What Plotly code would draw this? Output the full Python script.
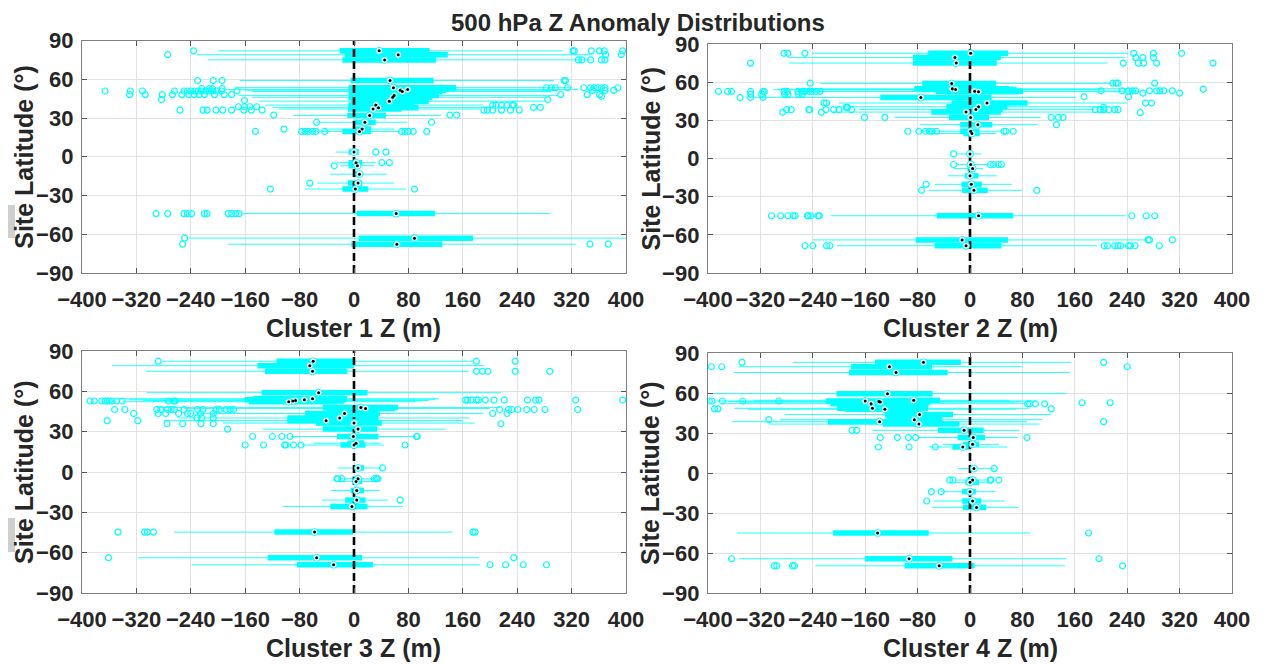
import plotly.graph_objects as go

# ---------------- data ----------------
x_ticks = [-400, -320, -240, -160, -80, 0, 80, 160, 240, 320, 400]
y_ticks = [-90, -60, -30, 0, 30, 60, 90]
cluster_names = ["Cluster 1 Z (m)", "Cluster 2 Z (m)", "Cluster 3 Z (m)", "Cluster 4 Z (m)"]

# Cluster 1
c1_lat = [82, 79, 75, 59, 53.5, 52, 51.5, 50.5, 47.5, 46, 43, 40, 38, 37, 32, 26.7, 21.4, 19.6, 3.6, -4.6, -7, -13.5, -20.4, -25, -44, -63, -67.7]
c1_q1 = [-21, -14, -17, -5, -8, -5, -6, -8, -7, -8, -5, -8, -6, -9, -10, -1, 2, -17, -8, -8, -8, -1, -9, -17, 4, 7, -4]
c1_med = [37, 65, 45, 53, 58, 79, 68, 71, 59, 57, 52, 32, 36, 28, 23, 16, 12, 8, 0, 3, 5, 8, 6, 2, 62, 89, 63]
c1_q3 = [111, 138, 121, 117, 150, 140, 135, 130, 125, 115, 110, 88, 95, 70, 47, 32, 25, 25, 7, 12, 9, 12, 12, 21, 119, 175, 130]
c1_wlo = [-200, -231, -215, -168, -175, -190, -160, -150, -170, -150, -140, -130, -120, -110, -89, -56, -43, -75, -27, -25, -20, -35, -54, -72, -164, -243, -185]
c1_whi = [307, 349, 348, 294, 320, 330, 300, 290, 300, 285, 280, 190, 200, 185, 128, 78, 59, 68, 7, 32, 30, 48, 59, 77, 289, 400, 326]
c1_out_lat = ([82] * 7 + [79] * 3 + [75] * 5 + [59] * 5 + [52.7] * 4 + [50.9] * 16 + [48.1] * 12 + [44.3, 43.5]
              + [53.4] * 11 + [51.4] * 3 + [48.1] * 3 + [46.8, 44.3] + [40] * 6 + [38.2] * 2 + [36.1] * 15
              + [38.7] * 4 + [32.3] * 3 + [26.7] * 2 + [21.4] + [19.6] * 12 + [3.6] * 2 + [-4.6] * 2 + [-7, -20.4]
              + [-25] * 2 + [-44] * 11 + [-63] + [-67.7] * 3)
c1_out_val = ([-236, 322, 324, 349, 361, 368, 395] + [-274, 370, 393] + [330, 335, 348, 364, 369]
              + [-230, -207, -194, 309, 311] + [-224, -213, -208, -194]
              + [-366, -329, -311, -264, -250, -245, -240, -234, -229, -224, -218, -213, -208, -202, -195, -172]
              + [-330, -307, -282, -267, -253, -243, -235, -228, -220, -205, -191, -180] + [-283, -161]
              + [283, 290, 296, 314, 338, 348, 353, 358, 364, 369, 388] + [351, 369, 382] + [304, 343, 361]
              + [364, 285] + [204, 209, 217, 225, 233, 235] + [264, 274]
              + [-256, -222, -216, -203, -193, -180, -162, -151, -135, 191, 196, 204, 217, 230, 243]
              + [-170, -161, -153, -143] + [-118, 141, 151] + [-55, 114] + [-103]
              + [-145, -77, -72, -67, -61, -56, -43, 70, 75, 80, 87, 107] + [32, 47] + [41, 52] + [-29, -65]
              + [-123, 89] + [-291, -274, -250, -245, -239, -220, -216, -185, -180, -174, -169] + [-249]
              + [-252, 347, 374])

# Cluster 2
c2_lat = [82.7, 79.3, 75, 59, 54.8, 54.2, 52.9, 52.5, 48, 43.6, 40.7, 38.6, 36.5, 32.3, 26.6, 21.4, 19.6, 3.6, -4.7, -7.8, -13.6, -20.3, -25, -45, -64, -68.6]
c2_q1 = [-64, -87, -87, -73, -85, -70, -52, -40, -137, -28, -36, -30, -59, -32, -15, -15, -10, -4, -4, -4, -8, -13, -12, -51, -83, -54]
c2_med = [1, -23, -21, -28, -27, -22, 7, 13, -75, 26, 13, 9, -6, 1, 12, 1, 3, 0, 1, 4, 0, 2, 6, 13, -12, -6]
c2_q3 = [58, 47, 41, 40, 60, 71, 81, 75, 33, 88, 57, 50, 47, 29, 34, 14, 15, 5, 6, 8, 13, 18, 27, 66, 58, 48]
c2_wlo = [-241, -278, -276, -228, -230, -300, -250, -260, -331, -200, -190, -170, -210, -115, -77, -77, -60, -20, -22, -25, -34, -54, -63, -213, -240, -203]
c2_whi = [242, 237, 210, 215, 250, 200, 260, 230, 162, 240, 200, 190, 210, 108, 103, 49, 40, 17, 30, 20, 41, 64, 80, 237, 268, 194]
c2_out_lat = ([82.7] * 6 + [79.3] * 3 + [75] * 6 + [59.2] * 5 + [52.7] * 15 + [50.6] * 6 + [48] * 3 + [43.6] * 2
              + [40.2] * 2 + [38.4] * 8 + [36.3] * 2 + [54.5] + [53.2] * 10 + [51.4] * 2 + [48.5] * 2 + [43.6] * 2
              + [40.2] + [38.4] * 6 + [36] + [32.3] * 5 + [26.6] + [21.4] * 9 + [3.6] + [-4.7] * 5 + [-20.3]
              + [-25] * 2 + [-45] * 13 + [-64] * 3 + [-68.6] * 13)
c2_out_val = ([-284, -278, -252, 250, 280, 323] + [253, 264, 280] + [-335, 234, 257, 265, 285, 371]
              + [-244, 218, 223, 226, 282]
              + [-384, -370, -364, -335, -316, -314, -284, -279, -263, -257, -252, -246, -241, -235, -229]
              + [-335, -318, -283, -278, -262, -256] + [-351, -335, -316] + [-223, -219] + [-189, -187]
              + [-280, -273, -246, -245, -220, -208, -200, -181] + [-286, -227] + [356]
              + [200, 232, 242, 248, 253, 274, 285, 290, 296, 309] + [264, 320] + [174, 242] + [268, 277]
              + [204] + [191, 199, 204, 212, 221, 226] + [260] + [-161, -130, 124, 135, 142] + [132]
              + [-95, -78, -68, -62, -58, -51, 52, 55, 66] + [-25] + [-25, 31, 36, 43, 48] + [-67] + [-74, 102]
              + [-303, -289, -278, -270, -267, -248, -247, -243, -232, -230, 247, 269, 282] + [272, 274, 309]
              + [-252, -240, -219, -214, 205, 210, 221, 226, 230, 242, 245, 252, 289])

# Cluster 3
c3_lat = [82.4, 79.1, 74.9, 59, 54.5, 53.8, 53.2, 52.8, 52.3, 47.9, 47.3, 43.5, 40.2, 38.2, 36.4, 31.9, 26.4, 21.4, 20.1, 3, -5, -7, -13.8, -20.9, -25.6, -44.7, -63.8, -69]
c3_q1 = [-114, -142, -131, -136, -148, -161, -150, -140, -155, -46, -40, -72, -98, -98, -56, -46, -25, -10, -20, 6, -2, -2, -5, -13, -35, -117, -127, -84]
c3_med = [-60, -65, -61, -52, -61, -73, -86, -90, -96, 10, 17, -14, -21, -41, 0, 6, -1, 3, 0, 6, 6, 3, 4, 4, -3, -58, -55, -30]
c3_q3 = [-1, 0, -10, 20, -10, -12, -20, -15, -25, 65, 60, 38, 36, 20, 41, 34, 36, 15, 17, 15, 8, 12, 15, 17, 20, -1, 12, 28]
c3_wlo = [-282, -356, -306, -305, -348, -330, -310, -300, -340, -290, -250, -230, -260, -280, -193, -134, -93, -60, -77, -24, -20, -25, -34, -47, -105, -265, -318, -239]
c3_whi = [175, 191, 169, 216, 125, 120, 110, 100, 90, 215, 200, 190, 170, 160, 178, 135, 91, 40, 44, 41, 30, 33, 38, 50, 72, 145, 184, 185]
c3_out_lat = ([82.4] * 3 + [74.9] * 5 + [52.8] * 12 + [46.5] * 15 + [43.5] * 8 + [40.2] * 3 + [38.2] * 2
              + [35.9] * 4 + [31.9] + [53.5] * 13 + [46.5] * 8 + [43.5] * 2 + [35.9] + [26.4] * 6 + [20.1] * 7
              + [3] + [-5] * 6 + [-20.9] + [-44.7] * 6 + [-63.8] * 2 + [-69] * 4)
c3_out_val = ([-288, 180, 237] + [180, 189, 197, 237, 288]
              + [-388, -382, -371, -366, -363, -360, -356, -349, -341, -273, -265, -263]
              + [-352, -337, -290, -284, -274, -269, -264, -250, -230, -222, -203, -198, -188, -182, -177]
              + [-324, -288, -277, -258, -245, -240, -226, -207] + [-231, -224, -207] + [-363, -318]
              + [-275, -252, -225, -207] + [-186]
              + [164, 167, 172, 180, 183, 193, 206, 221, 255, 267, 272, 326, 395]
              + [214, 227, 232, 241, 254, 265, 281, 329] + [204, 225] + [216]
              + [-149, -120, -106, -94, 92, 93] + [-160, -133, -102, -100, -89, -78, 75] + [42]
              + [-25, -24, -18, 30, 33, 35] + [68] + [-347, -308, -304, -295, 175, 178] + [-361, 235]
              + [200, 223, 249, 283])

# Cluster 4
c4_lat = [83, 79.7, 75.4, 59.5, 54.5, 54, 53.6, 53.2, 52, 48.5, 47.8, 43.8, 40, 38.5, 36.7, 32, 26.6, 21.5, 19.5, 3.3, -5.3, -7, -14, -21, -25.8, -45, -64.3, -69.6]
c4_q1 = [-145, -182, -185, -204, -120, -220, -200, -190, -213, -203, -190, -130, -128, -217, -133, -49, -19, -10, -27, 1, -5, -7, -12, -12, -11, -209, -160, -100]
c4_med = [-71, -123, -113, -126, -86, -160, -139, -137, -151, -149, -130, -77, -85, -138, -78, -9, 5, 4, -11, 6, 4, 0, 0, 4, 10, -141, -93, -47]
c4_q3 = [-14, -58, -34, -57, -46, -80, -70, -60, -63, -64, -80, -26, -42, -43, -16, 21, 23, 14, 1, 9, 10, 14, 9, 17, 25, -63, -27, 7]
c4_wlo = [-270, -353, -360, -398, -330, -390, -370, -350, -380, -360, -340, -283, -290, -363, -307, -149, -79, -42, -63, -18, -20, -25, -44, -56, -58, -356, -353, -236]
c4_whi = [154, 80, 153, 147, 60, 100, 80, 70, 85, 90, 70, 124, 110, 87, 106, 76, 73, 44, 57, 37, 31, 35, 39, 53, 74, 92, 147, 145]
c4_out_lat = ([83] * 2 + [79.7] * 3 + [54] * 5 + [52.7] * 2 + [51.9] * 4 + [48.1] * 3 + [40] + [38.5]
              + [32] * 2 + [26.6] * 5 + [19.5] * 3 + [3.3] + [-5.3] * 5 + [-14] * 2 + [-21] + [-45]
              + [-64.3] * 2 + [-69.6] * 5)
c4_out_val = ([-348, 204] + [-395, -379, 240] + [-398, -394, -378, -347, -292] + [171, 214] + [88, 91, 100, 114]
              + [-390, -385, 124] + [-307] + [204] + [-180, -173] + [-137, -111, -94, -83, 87] + [-140, -93, -53]
              + [37] + [-31, -26, 31, 32, 44] + [-59, -44] + [-66] + [181] + [-364, 197]
              + [-299, -295, -271, -268, 233])

clusters = [
    (c1_lat, c1_q1, c1_med, c1_q3, c1_wlo, c1_whi, c1_out_lat, c1_out_val),
    (c2_lat, c2_q1, c2_med, c2_q3, c2_wlo, c2_whi, c2_out_lat, c2_out_val),
    (c3_lat, c3_q1, c3_med, c3_q3, c3_wlo, c3_whi, c3_out_lat, c3_out_val),
    (c4_lat, c4_q1, c4_med, c4_q3, c4_wlo, c4_whi, c4_out_lat, c4_out_val),
]

# ---------------- layout geometry (pixels in the final screenshot) ----------------
W, H = 1265, 664
OFF = 8  # page body margin offset
boxes_px = [(82, 626, 40.5, 273), (708, 1232, 44, 273), (82, 626, 351, 593), (708, 1232, 353, 593)]


def px(x):
    return (x - OFF) / W


def py(y):
    return 1 - (y - OFF) / H


CYAN = "#00FFFF"
TXT = "#262626"
FONT = "Liberation Sans, Arial, sans-serif"

fig = go.Figure()


def seg(xs0, xs1, ys):
    X, Y = [], []
    for a, b, c in zip(xs0, xs1, ys):
        X += [a, b, None]
        Y += [c, c, None]
    return X, Y


for i, (lat, q1, med, q3, wlo, whi, olat, oval) in enumerate(clusters):
    k = "" if i == 0 else str(i + 1)
    xa, ya = "x" + k, "y" + k
    X, Y = seg(wlo, whi, lat)
    fig.add_trace(go.Scatter(x=X, y=Y, mode="lines", line=dict(color=CYAN, width=1), xaxis=xa, yaxis=ya,
                             hoverinfo="skip", showlegend=False, opacity=0.85))
    X, Y = seg(q1, q3, lat)
    fig.add_trace(go.Scatter(x=X, y=Y, mode="lines", line=dict(color=CYAN, width=5.5), xaxis=xa, yaxis=ya,
                             hoverinfo="skip", showlegend=False))
    fig.add_trace(go.Scatter(x=oval, y=olat, mode="markers",
                             marker=dict(symbol="circle-open", size=6, color=CYAN, line=dict(width=1.2)),
                             xaxis=xa, yaxis=ya, showlegend=False))
    fig.add_trace(go.Scatter(x=[0, 0], y=[-90, 90], mode="lines",
                             line=dict(color="black", width=2.6, dash="8px,4px"), xaxis=xa, yaxis=ya,
                             hoverinfo="skip", showlegend=False))
    fig.add_trace(go.Scatter(x=med, y=lat, mode="markers",
                             marker=dict(symbol="circle", size=7, color="white", line=dict(color=CYAN, width=1)),
                             xaxis=xa, yaxis=ya, showlegend=False))
    fig.add_trace(go.Scatter(x=med, y=lat, mode="markers",
                             marker=dict(symbol="circle", size=3, color="black", line=dict(width=0)),
                             xaxis=xa, yaxis=ya, showlegend=False, hoverinfo="skip"))

layout = dict(width=W, height=H, margin=dict(l=0, r=0, t=0, b=0, autoexpand=False),
              plot_bgcolor="white", paper_bgcolor="white", font=dict(family=FONT, color=TXT))
annotations = []
for i, (x0, x1, y0, y1) in enumerate(boxes_px):
    k = "" if i == 0 else str(i + 1)
    common = dict(showgrid=True, gridcolor="#e2e2e2", gridwidth=1, zeroline=False, automargin=False,
                  showline=True, linecolor="#808080", linewidth=1.3, mirror="ticks",
                  ticks="inside", ticklen=5, tickcolor="#555555", tickangle=0,
                  tickfont=dict(size=22, family=FONT, color=TXT, weight="bold"))
    layout["xaxis" + k] = dict(domain=[px(x0), px(x1)], anchor="y" + k, range=[-400, 400], tickvals=x_ticks,
                               ticklabelstandoff=6, **common)
    layout["yaxis" + k] = dict(domain=[py(y1), py(y0)], anchor="x" + k, range=[-90, 90],
                               tickvals=y_ticks, ticklabelstandoff=3, **common)
    annotations.append(dict(text=cluster_names[i], x=px((x0 + x1) / 2), y=py(y1 + 55), xref="paper",
                            yref="paper", showarrow=False, font=dict(size=25, family=FONT, color=TXT, weight="bold"),
                            xanchor="center", yanchor="middle"))
    ylab_x = 24 if i in (0, 2) else 650
    annotations.append(dict(text="Site Latitude (°)", x=px(ylab_x), y=py((y0 + y1) / 2), xref="paper",
                            yref="paper", showarrow=False, textangle=-90,
                            font=dict(size=25, family=FONT, color=TXT, weight="bold"),
                            xanchor="center", yanchor="middle"))

annotations.append(dict(text="500 hPa Z Anomaly Distributions", x=px(638), y=py(OFF), xref="paper", yref="paper",
                        showarrow=False, font=dict(size=24, family=FONT, color=TXT, weight="bold"),
                        xanchor="center", yanchor="top", borderpad=0))
layout["annotations"] = annotations
layout["shapes"] = [
    dict(type="rect", xref="paper", yref="paper", x0=px(OFF), x1=px(OFF + 7), y0=py(238), y1=py(205),
         fillcolor="#cfcfcf", line=dict(width=0)),
    dict(type="rect", xref="paper", yref="paper", x0=px(OFF), x1=px(OFF + 7), y0=py(552), y1=py(518),
         fillcolor="#cfcfcf", line=dict(width=0)),
]
fig.update_layout(**layout)
fig.write_html("out.html")
